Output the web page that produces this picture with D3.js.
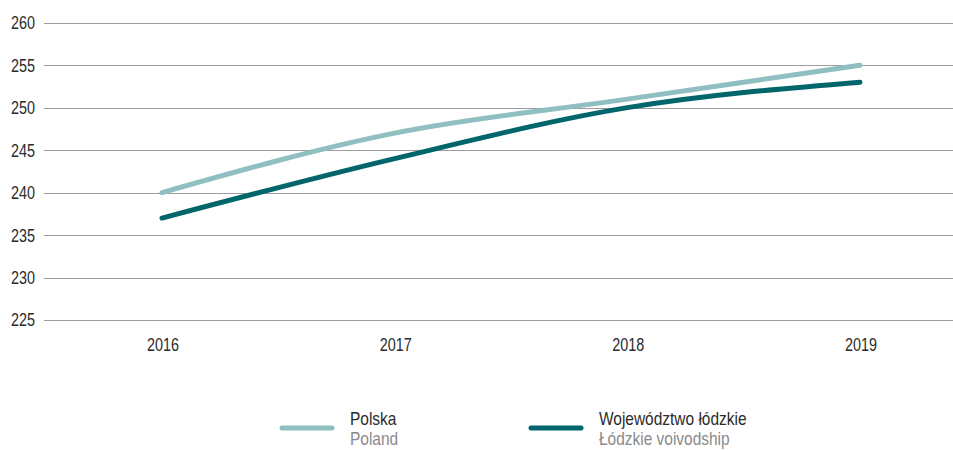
<!DOCTYPE html>
<html>
<head>
<meta charset="utf-8">
<script src="https://cdn.jsdelivr.net/npm/d3@7"></script>
<style>
    body { margin: 0; background: #ffffff; }
    svg { display: block; }
</style>
</head>
<body>
<div id="chart"></div>
<script>
// Data
const years = ["2016", "2017", "2018", "2019"];
const polska = [240, 247, 251, 255];
const lodzkie = [237, 244, 250, 253];
const yTicks = [225, 230, 235, 240, 245, 250, 255, 260];

const series = [
    { name: "Polska", sub: "Poland", values: polska, color: "#8fbfc0" },
    { name: "Województwo łódzkie", sub: "Łódzkie voivodship", values: lodzkie, color: "#00666b" },
];

const width = 953;
const height = 450;
const font = "'Liberation Sans', Arial, sans-serif";
// the original uses a condensed face, so squeeze the text horizontally
const squeeze = 0.8;

const svg = d3.select("#chart")
    .append("svg")
    .attr("width", width)
    .attr("height", height);

const x = d3.scalePoint()
    .domain(years)
    .range([162, 860]);

const y = d3.scaleLinear()
    .domain([225, 260])
    .range([320, 22.7]);

// Gridlines
svg.append("g")
    .selectAll("line")
    .data(yTicks)
    .enter()
    .append("line")
    .attr("x1", 44)
    .attr("x2", width)
    .attr("y1", d => Math.round(y(d)) + 0.5)
    .attr("y2", d => Math.round(y(d)) + 0.5)
    .attr("stroke", "#9d9d9d")
    .attr("stroke-width", 1);

// Y axis labels
svg.append("g")
    .selectAll("text")
    .data(yTicks)
    .enter()
    .append("text")
    .attr("transform", d => `translate(35,${y(d)}) scale(${squeeze},1)`)
    .attr("dy", "0.36em")
    .attr("text-anchor", "end")
    .attr("font-family", font)
    .attr("font-size", "18px")
    .attr("fill", "#2b2b2b")
    .text(d => d);

// X axis labels
svg.append("g")
    .selectAll("text")
    .data(years)
    .enter()
    .append("text")
    .attr("transform", d => `translate(${x(d) + 1},351) scale(${squeeze},1)`)
    .attr("text-anchor", "middle")
    .attr("font-family", font)
    .attr("font-size", "18px")
    .attr("fill", "#2b2b2b")
    .text(d => d);

// Lines
const line = d3.line()
    .x((d, i) => x(years[i]))
    .y(d => y(d))
    .curve(d3.curveMonotoneX);

svg.append("g")
    .selectAll("path")
    .data(series)
    .enter()
    .append("path")
    .attr("d", d => line(d.values))
    .attr("fill", "none")
    .attr("stroke", d => d.color)
    .attr("stroke-width", 5)
    .attr("stroke-linecap", "round");

// Legend
const legendX = [282, 531];
const legend = svg.append("g")
    .selectAll("g")
    .data(series)
    .enter()
    .append("g")
    .attr("transform", (d, i) => `translate(${legendX[i]},428)`);

legend.append("line")
    .attr("x1", 0)
    .attr("x2", 50)
    .attr("stroke", d => d.color)
    .attr("stroke-width", 5)
    .attr("stroke-linecap", "round");

legend.append("text")
    .attr("transform", `translate(68,-3) scale(0.86,1)`)
    .attr("font-family", font)
    .attr("font-size", "18px")
    .attr("fill", "#2b2b2b")
    .text(d => d.name);

legend.append("text")
    .attr("transform", `translate(68,16.5) scale(0.86,1)`)
    .attr("font-family", font)
    .attr("font-size", "18px")
    .attr("fill", "#8a8a8a")
    .text(d => d.sub);
</script>
</body>
</html>
